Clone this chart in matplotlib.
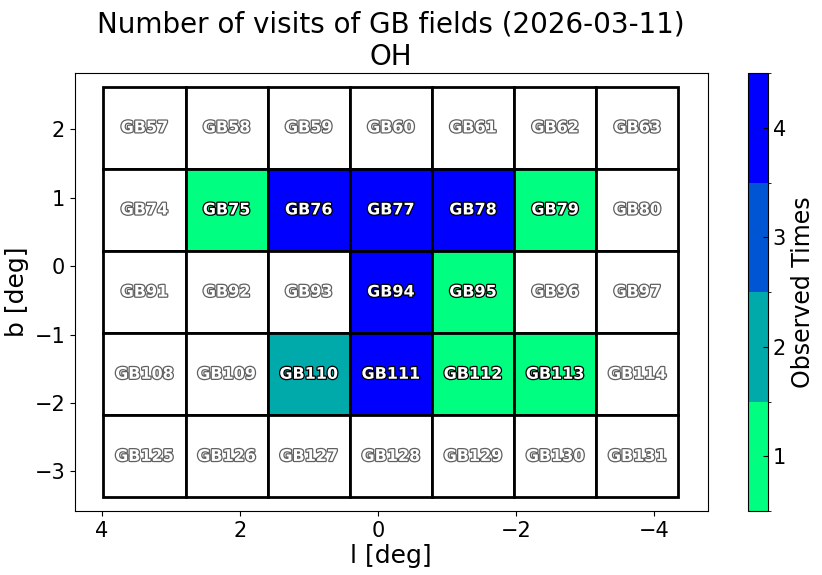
import numpy as np
import matplotlib
matplotlib.use("Agg")
import matplotlib.pyplot as plt
import matplotlib.patheffects as pe
from matplotlib.colors import BoundaryNorm
from matplotlib.patches import Rectangle
from matplotlib.cm import ScalarMappable

# field grid (rows from top, columns from left as drawn: l decreasing)
l_centers = [3.38, 2.19, 1.0, -0.19, -1.38, -2.57, -3.76]
b_centers = [2.02, 0.82, -0.38, -1.58, -2.78]
row_first_id = [57, 74, 91, 108, 125]

visits = [
    [0, 0, 0, 0, 0, 0, 0],
    [0, 1, 4, 4, 4, 1, 0],
    [0, 0, 0, 4, 1, 0, 0],
    [0, 0, 2, 4, 1, 1, 0],
    [0, 0, 0, 0, 0, 0, 0],
]

cell_w = 1.19
cell_h = 1.2

fig = plt.figure(figsize=(8.22, 5.75), dpi=100)
ax = fig.add_axes([0.091, 0.111, 0.770, 0.762])
cax = fig.add_axes([0.910, 0.111, 0.024, 0.762])

cmap = plt.get_cmap("winter_r", 4)
norm = BoundaryNorm([0.5, 1.5, 2.5, 3.5, 4.5], cmap.N)

for i, b in enumerate(b_centers):
    for j, l in enumerate(l_centers):
        n = visits[i][j]
        face = cmap(norm(n)) if n > 0 else "white"
        ax.add_patch(Rectangle((l - cell_w / 2, b - cell_h / 2), cell_w, cell_h,
                               facecolor=face, edgecolor="black", linewidth=2))
        name = f"GB{row_first_id[i] + j}"
        edge = "black" if n > 0 else "#606060"
        ax.text(l, b, name, ha="center", va="center", fontsize=11.5,
                fontweight="bold", color="white",
                path_effects=[pe.withStroke(linewidth=1.8, foreground=edge)])

ax.set_xlim(4.39, -4.78)
ax.set_ylim(-3.58, 2.82)
ax.set_xticks([4, 2, 0, -2, -4])
ax.set_yticks([-3, -2, -1, 0, 1, 2])
ax.tick_params(labelsize=15)
ax.set_xlabel("l [deg]", fontsize=18, labelpad=2)
ax.set_ylabel("b [deg]", fontsize=18)
ax.set_title("Number of visits of GB fields (2026-03-11)\nOH", fontsize=20)

sm = ScalarMappable(norm=norm, cmap=cmap)
cb = fig.colorbar(sm, cax=cax, ticks=[1, 2, 3, 4])
cb.ax.tick_params(labelsize=15, direction="in")
cb.outline.set_linewidth(0.8)
cb.set_label("Observed Times", fontsize=17)

fig.savefig("out.png", dpi=100)
